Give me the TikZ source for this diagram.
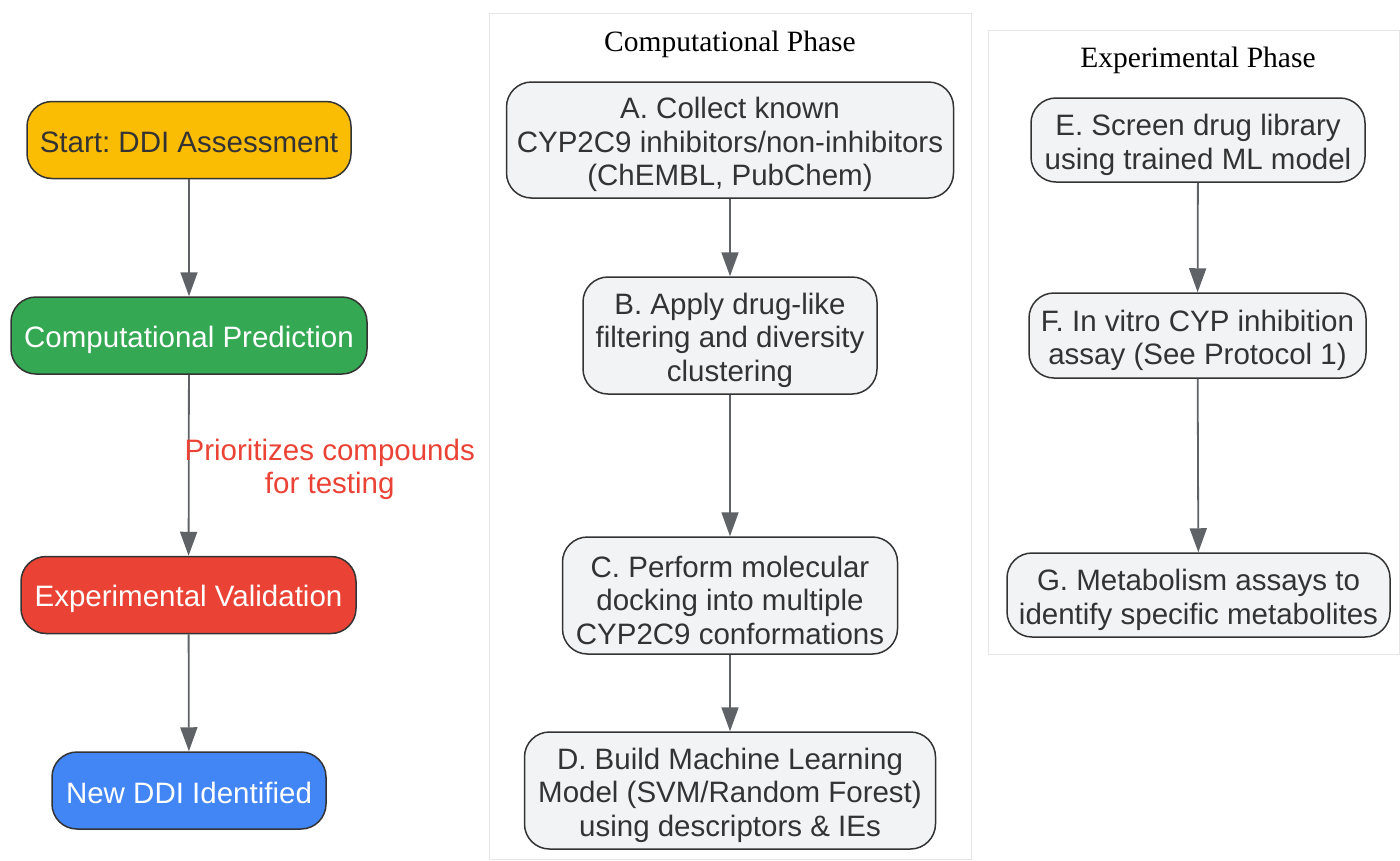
\documentclass[tikz,border=0pt]{standalone}
\usepackage{fontspec}
\setmainfont{Liberation Sans}
\newfontfamily\titlefont{Liberation Serif}
\usetikzlibrary{arrows.meta}
\frenchspacing

\definecolor{startcol}{HTML}{FBBC04}
\definecolor{compcol}{HTML}{34A853}
\definecolor{expcol}{HTML}{EA4335}
\definecolor{newcol}{HTML}{4285F4}
\definecolor{stepfill}{HTML}{F1F3F4}
\definecolor{edgecol}{HTML}{5F6368}
\definecolor{textcol}{HTML}{333333}
\definecolor{clustline}{HTML}{E6E6E6}

% taller first line, so the text sits a little lower in its box
\newcommand{\lowerby}[1]{\rule{0pt}{#1}}

\tikzset{
  box/.style={draw=textcol,line width=1.5pt,rounded corners=25pt,align=center,
    inner sep=0pt,font=\fontsize{29.5}{33.5}\selectfont},
  mainbox/.style={box,minimum height=77pt,
    execute at begin node={\rule{0pt}{30pt}},
    execute at end node={\rule[-5pt]{0pt}{0pt}}},
  stepbox/.style={box,fill=stepfill,text=textcol},
  flow/.style={draw=edgecol,line width=1.8pt,-{Triangle[length=24pt,width=17pt]}},
  edgelabel/.style={text=expcol,align=center,font=\fontsize{29.5}{33.5}\selectfont},
  cluster/.style={draw=clustline,line width=1pt,fill=white},
  clustertitle/.style={font=\titlefont\fontsize{29.5}{33.5}\selectfont}
}

\begin{document}
\begin{tikzpicture}[x=1pt,y=-1pt]
\useasboundingbox (0,0) rectangle (1400,860);

% phase frames
\draw[cluster] (489,13) rectangle (971,859);
\node[clustertitle] (ctitle) at (730,44.5) {Computational Phase};
\draw[cluster] (988,30) rectangle (1399,654);
\node[clustertitle] (etitle) at (1198,60.5) {Experimental Phase};

% overview
\node[mainbox,fill=startcol,text=textcol,minimum width=324pt] (start) at (189,140) {Start: DDI Assessment};
\node[mainbox,fill=compcol,text=white,minimum width=356pt] (comp) at (189,335.5) {Computational Prediction};
\node[mainbox,fill=expcol,text=white,minimum width=335pt] (expv) at (188.5,595) {Experimental Validation};
\node[mainbox,fill=newcol,text=white,minimum width=274pt] (newddi) at (189,790.5) {New DDI Identified};

% computational steps
\node[stepbox,minimum width=447pt,minimum height=116pt] (stepA) at (730,140) {\lowerby{31pt}A. Collect known\\CYP2C9 inhibitors/non-inhibitors\\(ChEMBL, PubChem)};
\node[stepbox,minimum width=294pt,minimum height=117pt] (stepB) at (730,335.5) {\lowerby{31pt}B. Apply drug-like\\filtering and diversity\\clustering};
\node[stepbox,minimum width=335pt,minimum height=117pt] (stepC) at (730,595.5) {\lowerby{31pt}C. Perform molecular\\docking into multiple\\CYP2C9 conformations};
\node[stepbox,minimum width=411pt,minimum height=117pt] (stepD) at (730,790.5) {\lowerby{31pt}D. Build Machine Learning\\Model (SVM/Random Forest)\\using descriptors \& IEs};

% experimental steps
\node[stepbox,minimum width=334pt,minimum height=84pt] (stepE) at (1198,140) {\lowerby{31pt}E. Screen drug library\\using trained ML model};
\node[stepbox,minimum width=337pt,minimum height=85pt] (stepF) at (1197.5,335.5) {\lowerby{31pt}F. In vitro CYP inhibition\\assay (See Protocol 1)};
\node[stepbox,minimum width=383pt,minimum height=84pt] (stepG) at (1198.5,595) {\lowerby{31pt}G. Metabolism assays to\\identify specific metabolites};

\draw[flow] (start) -- (comp);
\draw[flow] (comp) -- (expv) node[midway,xshift=141pt,yshift=-4pt,edgelabel] {Prioritizes compounds\\for testing};
\draw[flow] (expv) -- (newddi);

\draw[flow] (stepA) -- (stepB);
\draw[flow] (stepB) -- (stepC);
\draw[flow] (stepC) -- (stepD);

\draw[flow] (stepE) -- (stepF);
\draw[flow] (stepF) -- (stepG);
\end{tikzpicture}
\end{document}
